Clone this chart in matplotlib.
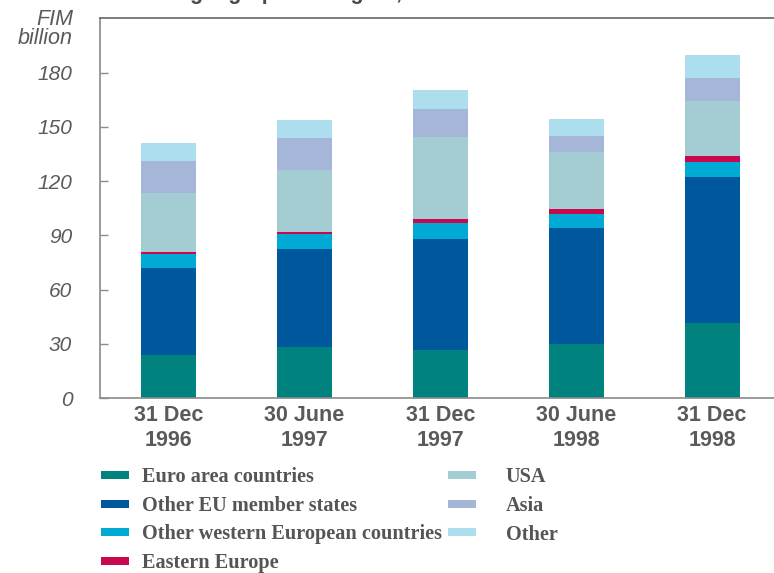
import matplotlib
matplotlib.use("Agg")
import matplotlib.pyplot as plt
from matplotlib.patches import Rectangle
import numpy as np

dates = ["31 Dec\n1996", "30 June\n1997", "31 Dec\n1997", "30 June\n1998", "31 Dec\n1998"]

euro_area = [23.8, 28.3, 26.6, 29.9, 41.5]
other_eu = [48.1, 54.2, 61.4, 64.2, 80.8]
other_west = [7.8, 8.3, 8.8, 7.7, 8.3]
eastern = [1.1, 1.1, 2.2, 2.8, 3.3]
usa = [32.6, 34.3, 45.4, 31.5, 30.5]
asia = [17.8, 17.7, 15.5, 8.9, 12.7]
other = [9.9, 9.9, 10.5, 9.4, 12.7]

series = [
    ("Euro area countries", euro_area, "#00827f"),
    ("Other EU member states", other_eu, "#00589c"),
    ("Other western European countries", other_west, "#00aad4"),
    ("Eastern Europe", eastern, "#c8094f"),
    ("USA", usa, "#a3cdd3"),
    ("Asia", asia, "#a5b6d8"),
    ("Other", other, "#addeee"),
]

grey = "#5a5a5a"
sans = ["Liberation Sans Narrow", "Liberation Sans", "DejaVu Sans"]
serif = ["Liberation Serif", "DejaVu Serif"]

fig = plt.figure(figsize=(7.74, 5.73), dpi=100)
ax = fig.add_axes([100 / 774, 1 - 398 / 573, 680 / 774, 380 / 573])

x = np.arange(len(dates))
bottom = np.zeros(len(dates))
for name, vals, col in series:
    ax.bar(x, vals, width=0.404, bottom=bottom, color=col, linewidth=0)
    bottom += np.array(vals)

ax.set_xlim(-0.504, 4.5)
ax.set_ylim(0, 210.3)
ax.set_yticks(range(0, 181, 30))
ax.set_yticklabels([str(v) for v in range(0, 181, 30)],
                   fontstyle="italic", family=["Liberation Sans", "DejaVu Sans"],
                   fontsize=15, color=grey)
ax.tick_params(axis="y", direction="in", length=6, width=1, color="#8a8a8a", pad=20)
ax.set_xticks(x)
ax.set_xticklabels(dates, fontweight="bold", family=sans, fontsize=15.5,
                   color=grey, linespacing=1.25)
ax.tick_params(axis="x", length=0, pad=5)

ax.spines["right"].set_visible(False)
ax.spines["top"].set_color("#666666")
ax.spines["left"].set_color("#8a8a8a")
ax.spines["bottom"].set_color("#8a8a8a")
for s in ax.spines.values():
    s.set_linewidth(1.2)

fig.text(73 / 774, 1 - 9 / 573, "FIM\nbillion", ha="right", va="top",
         fontstyle="italic", family=["Liberation Sans", "DejaVu Sans"],
         fontsize=15.5, color=grey, linespacing=0.9)

# title line sits just above the top edge
fig.text(190 / 774, 1 + 1.5 / 573, "geographical region,", ha="left",
         va="baseline", fontweight="bold", family=["Liberation Sans", "DejaVu Sans"],
         fontsize=15.5, color="#4a4a4a")

# legend in two columns below the chart
W, H = 774, 573
for i, (name, vals, col) in enumerate(series):
    c, r = divmod(i, 4)
    y = 475 + r * 28.5
    px = 101 if c == 0 else 448
    tx = 142 if c == 0 else 506
    fig.patches.append(Rectangle((px / W, 1 - (y + 4) / H), 28 / W, 8 / H,
                                 transform=fig.transFigure, color=col, lw=0))
    fig.text(tx / W, 1 - y / H, name, ha="left", va="center_baseline",
             fontweight="bold", family=serif, fontsize=14.6, color="#555555")

fig.savefig("out.png", dpi=100)
